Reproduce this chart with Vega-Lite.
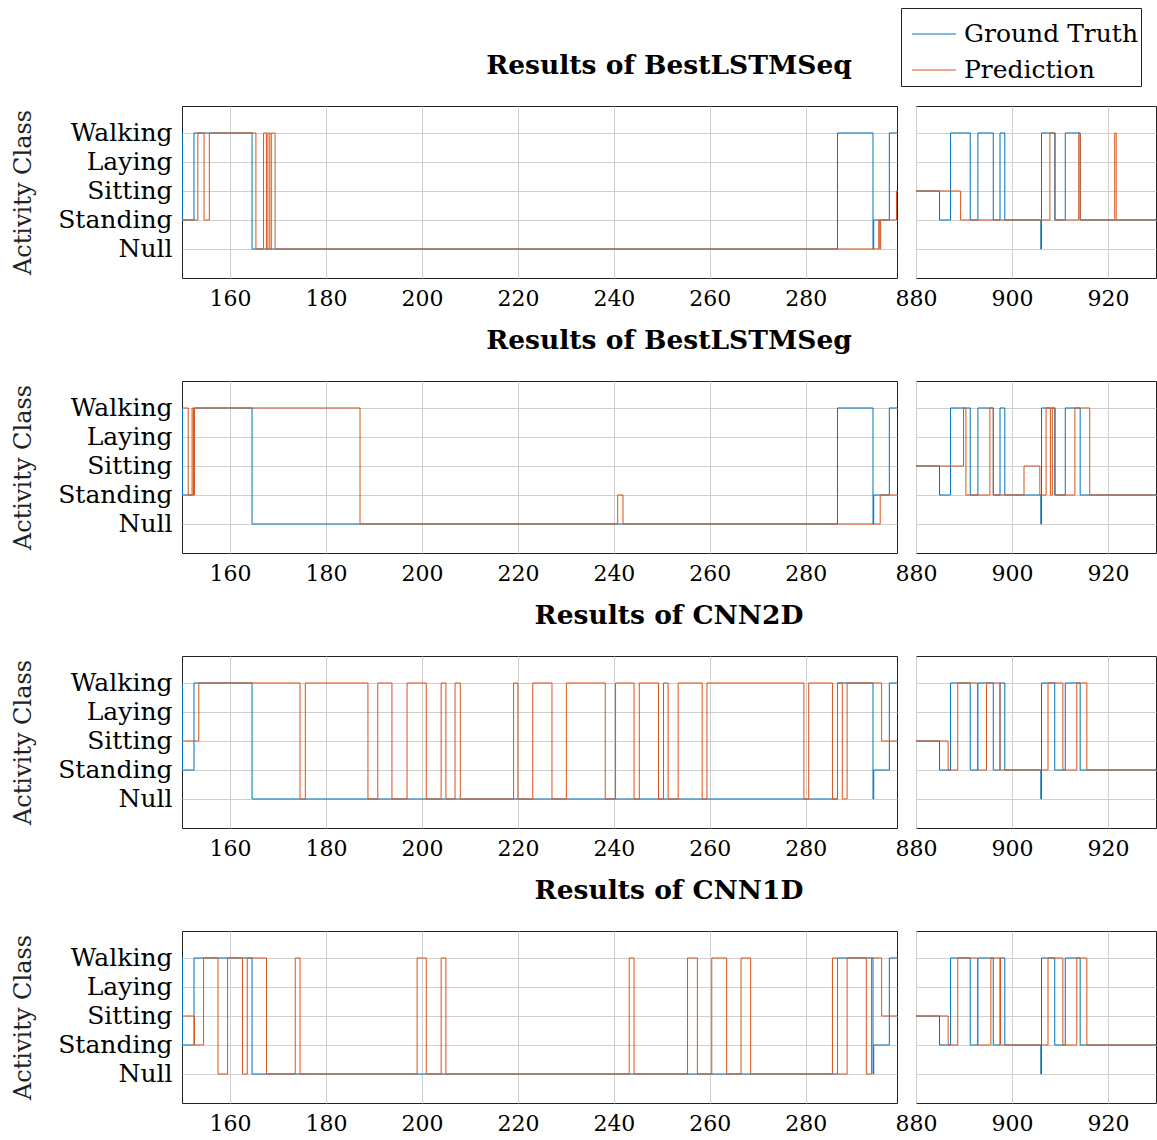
{
  "$schema": "https://vega.github.io/schema/vega-lite/v6.json",
  "background": "white",
  "padding": {"left": 11, "top": 7, "right": 2, "bottom": 4},
  "config": {
    "view": {"stroke": "#222", "strokeWidth": 1},
    "font": "DejaVu Serif",
    "axis": {"labelFont": "DejaVu Serif", "labelFontSize": 22, "labelColor": "#000", "grid": true, "gridColor": "#cfcfcf", "gridWidth": 1, "domain": false, "ticks": false, "labelPadding": 10, "labelFlush": false, "titleFont": "DejaVu Serif", "titleFontSize": 24, "titleFontWeight": "normal", "titleColor": "#222"},
    "title": {"font": "DejaVu Serif", "fontSize": 26.5, "fontWeight": "bold", "color": "#000", "anchor": "middle", "frame": "group", "offset": 26, "dx": 487},
    "legend": {"labelFont": "DejaVu Serif", "labelFontSize": 25, "labelColor": "#000", "labelLimit": 400}
  },
  "datasets": {
    "truth": [
      {"seg": "L", "x": 149.5, "c": 4}, {"seg": "L", "x": 150.1, "c": 1}, {"seg": "L", "x": 152.5, "c": 4}, {"seg": "L", "x": 164.6, "c": 0}, {"seg": "L", "x": 286.6, "c": 4}, {"seg": "L", "x": 294.0, "c": 0}, {"seg": "L", "x": 294.15, "c": 1}, {"seg": "L", "x": 297.4, "c": 4}, {"seg": "L", "x": 300, "c": 4},
      {"seg": "R", "x": 878, "c": 2}, {"seg": "R", "x": 884.9, "c": 1}, {"seg": "R", "x": 887.2, "c": 4}, {"seg": "R", "x": 891.3, "c": 1}, {"seg": "R", "x": 892.9, "c": 4}, {"seg": "R", "x": 896.1, "c": 1}, {"seg": "R", "x": 897.5, "c": 4}, {"seg": "R", "x": 898.5, "c": 1}, {"seg": "R", "x": 906.0, "c": 0}, {"seg": "R", "x": 906.15, "c": 4}, {"seg": "R", "x": 908.9, "c": 1}, {"seg": "R", "x": 911.1, "c": 4}, {"seg": "R", "x": 914.2, "c": 1}, {"seg": "R", "x": 931, "c": 1}
    ],
    "pred": [
      {"m": "BestLSTMSeq", "seg": "L", "x": 149.5, "c": 1}, {"m": "BestLSTMSeq", "seg": "L", "x": 153.3, "c": 4}, {"m": "BestLSTMSeq", "seg": "L", "x": 154.6, "c": 1}, {"m": "BestLSTMSeq", "seg": "L", "x": 155.7, "c": 4}, {"m": "BestLSTMSeq", "seg": "L", "x": 165.4, "c": 0}, {"m": "BestLSTMSeq", "seg": "L", "x": 167.0, "c": 4}, {"m": "BestLSTMSeq", "seg": "L", "x": 167.6, "c": 0}, {"m": "BestLSTMSeq", "seg": "L", "x": 167.9, "c": 4}, {"m": "BestLSTMSeq", "seg": "L", "x": 168.3, "c": 0}, {"m": "BestLSTMSeq", "seg": "L", "x": 168.6, "c": 4}, {"m": "BestLSTMSeq", "seg": "L", "x": 169.4, "c": 0}, {"m": "BestLSTMSeq", "seg": "L", "x": 295.2, "c": 1}, {"m": "BestLSTMSeq", "seg": "L", "x": 295.4, "c": 0}, {"m": "BestLSTMSeq", "seg": "L", "x": 295.6, "c": 1}, {"m": "BestLSTMSeq", "seg": "L", "x": 298.9, "c": 2}, {"m": "BestLSTMSeq", "seg": "L", "x": 300, "c": 2},
      {"m": "BestLSTMSeq", "seg": "R", "x": 878, "c": 2}, {"m": "BestLSTMSeq", "seg": "R", "x": 889.3, "c": 1}, {"m": "BestLSTMSeq", "seg": "R", "x": 907.9, "c": 4}, {"m": "BestLSTMSeq", "seg": "R", "x": 909.0, "c": 1}, {"m": "BestLSTMSeq", "seg": "R", "x": 913.9, "c": 4}, {"m": "BestLSTMSeq", "seg": "R", "x": 914.2, "c": 1}, {"m": "BestLSTMSeq", "seg": "R", "x": 921.4, "c": 4}, {"m": "BestLSTMSeq", "seg": "R", "x": 921.7, "c": 1}, {"m": "BestLSTMSeq", "seg": "R", "x": 931, "c": 1},

      {"m": "BestLSTMSeg", "seg": "L", "x": 149.5, "c": 4}, {"m": "BestLSTMSeg", "seg": "L", "x": 151.3, "c": 1}, {"m": "BestLSTMSeg", "seg": "L", "x": 152.1, "c": 4}, {"m": "BestLSTMSeg", "seg": "L", "x": 152.35, "c": 1}, {"m": "BestLSTMSeg", "seg": "L", "x": 152.6, "c": 4}, {"m": "BestLSTMSeg", "seg": "L", "x": 187.1, "c": 0}, {"m": "BestLSTMSeg", "seg": "L", "x": 240.8, "c": 1}, {"m": "BestLSTMSeg", "seg": "L", "x": 241.9, "c": 0}, {"m": "BestLSTMSeg", "seg": "L", "x": 295.5, "c": 1}, {"m": "BestLSTMSeg", "seg": "L", "x": 300.5, "c": 0}, {"m": "BestLSTMSeg", "seg": "L", "x": 301, "c": 0},
      {"m": "BestLSTMSeg", "seg": "R", "x": 878, "c": 2}, {"m": "BestLSTMSeg", "seg": "R", "x": 889.9, "c": 4}, {"m": "BestLSTMSeg", "seg": "R", "x": 890.4, "c": 1}, {"m": "BestLSTMSeg", "seg": "R", "x": 895.4, "c": 4}, {"m": "BestLSTMSeg", "seg": "R", "x": 896.1, "c": 1}, {"m": "BestLSTMSeg", "seg": "R", "x": 902.5, "c": 2}, {"m": "BestLSTMSeg", "seg": "R", "x": 905.8, "c": 1}, {"m": "BestLSTMSeg", "seg": "R", "x": 907.1, "c": 4}, {"m": "BestLSTMSeg", "seg": "R", "x": 908.0, "c": 1}, {"m": "BestLSTMSeg", "seg": "R", "x": 908.4, "c": 4}, {"m": "BestLSTMSeg", "seg": "R", "x": 909.0, "c": 1}, {"m": "BestLSTMSeg", "seg": "R", "x": 913.1, "c": 4}, {"m": "BestLSTMSeg", "seg": "R", "x": 916.2, "c": 1}, {"m": "BestLSTMSeg", "seg": "R", "x": 931, "c": 1},

      {"m": "CNN2D", "seg": "L", "x": 149.5, "c": 2}, {"m": "CNN2D", "seg": "L", "x": 153.5, "c": 4}, {"m": "CNN2D", "seg": "L", "x": 174.6, "c": 0}, {"m": "CNN2D", "seg": "L", "x": 175.7, "c": 4}, {"m": "CNN2D", "seg": "L", "x": 188.75, "c": 0}, {"m": "CNN2D", "seg": "L", "x": 190.8, "c": 4}, {"m": "CNN2D", "seg": "L", "x": 193.75, "c": 0}, {"m": "CNN2D", "seg": "L", "x": 196.9, "c": 4}, {"m": "CNN2D", "seg": "L", "x": 200.9, "c": 0}, {"m": "CNN2D", "seg": "L", "x": 204.0, "c": 4}, {"m": "CNN2D", "seg": "L", "x": 205.0, "c": 0}, {"m": "CNN2D", "seg": "L", "x": 206.9, "c": 4}, {"m": "CNN2D", "seg": "L", "x": 208.0, "c": 0}, {"m": "CNN2D", "seg": "L", "x": 219.1, "c": 4}, {"m": "CNN2D", "seg": "L", "x": 220.0, "c": 0}, {"m": "CNN2D", "seg": "L", "x": 223.1, "c": 4}, {"m": "CNN2D", "seg": "L", "x": 227.1, "c": 0}, {"m": "CNN2D", "seg": "L", "x": 230.1, "c": 4}, {"m": "CNN2D", "seg": "L", "x": 238.2, "c": 0}, {"m": "CNN2D", "seg": "L", "x": 240.35, "c": 4}, {"m": "CNN2D", "seg": "L", "x": 244.2, "c": 0}, {"m": "CNN2D", "seg": "L", "x": 245.3, "c": 4}, {"m": "CNN2D", "seg": "L", "x": 249.3, "c": 0}, {"m": "CNN2D", "seg": "L", "x": 250.35, "c": 4}, {"m": "CNN2D", "seg": "L", "x": 251.3, "c": 0}, {"m": "CNN2D", "seg": "L", "x": 253.4, "c": 4}, {"m": "CNN2D", "seg": "L", "x": 258.4, "c": 0}, {"m": "CNN2D", "seg": "L", "x": 259.4, "c": 4}, {"m": "CNN2D", "seg": "L", "x": 279.6, "c": 0}, {"m": "CNN2D", "seg": "L", "x": 280.6, "c": 4}, {"m": "CNN2D", "seg": "L", "x": 285.55, "c": 0}, {"m": "CNN2D", "seg": "L", "x": 286.6, "c": 4}, {"m": "CNN2D", "seg": "L", "x": 287.6, "c": 0}, {"m": "CNN2D", "seg": "L", "x": 288.6, "c": 4}, {"m": "CNN2D", "seg": "L", "x": 295.8, "c": 2}, {"m": "CNN2D", "seg": "L", "x": 300, "c": 2},
      {"m": "CNN2D", "seg": "R", "x": 878, "c": 2}, {"m": "CNN2D", "seg": "R", "x": 886.7, "c": 1}, {"m": "CNN2D", "seg": "R", "x": 888.7, "c": 4}, {"m": "CNN2D", "seg": "R", "x": 892.8, "c": 1}, {"m": "CNN2D", "seg": "R", "x": 894.7, "c": 4}, {"m": "CNN2D", "seg": "R", "x": 897.5, "c": 1}, {"m": "CNN2D", "seg": "R", "x": 907.5, "c": 4}, {"m": "CNN2D", "seg": "R", "x": 910.6, "c": 1}, {"m": "CNN2D", "seg": "R", "x": 913.5, "c": 4}, {"m": "CNN2D", "seg": "R", "x": 915.6, "c": 1}, {"m": "CNN2D", "seg": "R", "x": 931, "c": 1},

      {"m": "CNN1D", "seg": "L", "x": 149.5, "c": 2}, {"m": "CNN1D", "seg": "L", "x": 152.6, "c": 1}, {"m": "CNN1D", "seg": "L", "x": 154.5, "c": 4}, {"m": "CNN1D", "seg": "L", "x": 157.5, "c": 0}, {"m": "CNN1D", "seg": "L", "x": 159.5, "c": 4}, {"m": "CNN1D", "seg": "L", "x": 162.6, "c": 0}, {"m": "CNN1D", "seg": "L", "x": 163.6, "c": 4}, {"m": "CNN1D", "seg": "L", "x": 167.6, "c": 0}, {"m": "CNN1D", "seg": "L", "x": 173.6, "c": 4}, {"m": "CNN1D", "seg": "L", "x": 174.6, "c": 0}, {"m": "CNN1D", "seg": "L", "x": 199.0, "c": 4}, {"m": "CNN1D", "seg": "L", "x": 200.9, "c": 0}, {"m": "CNN1D", "seg": "L", "x": 204.0, "c": 4}, {"m": "CNN1D", "seg": "L", "x": 205.0, "c": 0}, {"m": "CNN1D", "seg": "L", "x": 243.2, "c": 4}, {"m": "CNN1D", "seg": "L", "x": 244.2, "c": 0}, {"m": "CNN1D", "seg": "L", "x": 255.35, "c": 4}, {"m": "CNN1D", "seg": "L", "x": 257.4, "c": 0}, {"m": "CNN1D", "seg": "L", "x": 260.4, "c": 4}, {"m": "CNN1D", "seg": "L", "x": 263.5, "c": 0}, {"m": "CNN1D", "seg": "L", "x": 266.5, "c": 4}, {"m": "CNN1D", "seg": "L", "x": 268.5, "c": 0}, {"m": "CNN1D", "seg": "L", "x": 285.55, "c": 4}, {"m": "CNN1D", "seg": "L", "x": 286.6, "c": 0}, {"m": "CNN1D", "seg": "L", "x": 288.6, "c": 4}, {"m": "CNN1D", "seg": "L", "x": 292.6, "c": 0}, {"m": "CNN1D", "seg": "L", "x": 293.7, "c": 4}, {"m": "CNN1D", "seg": "L", "x": 295.8, "c": 2}, {"m": "CNN1D", "seg": "L", "x": 300, "c": 2},
      {"m": "CNN1D", "seg": "R", "x": 878, "c": 2}, {"m": "CNN1D", "seg": "R", "x": 886.7, "c": 1}, {"m": "CNN1D", "seg": "R", "x": 888.7, "c": 4}, {"m": "CNN1D", "seg": "R", "x": 892.8, "c": 1}, {"m": "CNN1D", "seg": "R", "x": 895.6, "c": 4}, {"m": "CNN1D", "seg": "R", "x": 897.6, "c": 1}, {"m": "CNN1D", "seg": "R", "x": 907.5, "c": 4}, {"m": "CNN1D", "seg": "R", "x": 910.6, "c": 1}, {"m": "CNN1D", "seg": "R", "x": 913.5, "c": 4}, {"m": "CNN1D", "seg": "R", "x": 915.6, "c": 1}, {"m": "CNN1D", "seg": "R", "x": 931, "c": 1}
    ]
  },
  "spacing": 18,
  "vconcat": [
    {
      "title": {"text": "Results of BestLSTMSeq"},
      "spacing": 19,
      "bounds": "flush",
      "hconcat": [
        {"width": 715, "height": 172, "layer": [
          {"data": {"name": "truth"}, "transform": [{"filter": "datum.seg === 'L'"}], "mark": {"type": "line", "interpolate": "step-after", "clip": true, "strokeWidth": 1},
           "encoding": {"x": {"field": "x", "type": "quantitative", "scale": {"domain": [150, 299], "nice": false, "zero": false}, "axis": {"values": [160, 180, 200, 220, 240, 260, 280], "title": null}},
            "y": {"field": "c", "type": "quantitative", "scale": {"domain": [-1, 4.93], "nice": false, "zero": false}, "axis": {"values": [0, 1, 2, 3, 4], "labelFontSize": 25, "labelExpr": "['Null','Standing','Sitting','Laying','Walking'][datum.value]", "title": "Activity Class", "titlePadding": 22}},
            "color": {"datum": "Ground Truth", "scale": {"domain": ["Ground Truth", "Prediction"], "range": ["#0072BD", "#D95319"]},
              "legend": {"title": null, "orient": "none", "legendX": 719, "legendY": -98, "symbolType": "stroke", "symbolSize": 1950, "symbolStrokeWidth": 1, "symbolOffset": 7, "strokeColor": "#222", "fillColor": "white", "padding": 3, "rowPadding": 0, "labelOffset": 7, "labelExpr": "datum.label + '\u2002\u2009'"}}}},
          {"data": {"name": "pred"}, "transform": [{"filter": "datum.seg === 'L' && datum.m === 'BestLSTMSeq'"}], "mark": {"type": "line", "interpolate": "step-after", "clip": true, "strokeWidth": 1},
           "encoding": {"x": {"field": "x", "type": "quantitative"}, "y": {"field": "c", "type": "quantitative"}, "color": {"datum": "Prediction"}}}
        ]},
        {"width": 240, "height": 172, "layer": [
          {"data": {"name": "truth"}, "transform": [{"filter": "datum.seg === 'R'"}], "mark": {"type": "line", "interpolate": "step-after", "clip": true, "strokeWidth": 1},
           "encoding": {"x": {"field": "x", "type": "quantitative", "scale": {"domain": [880, 930], "nice": false, "zero": false}, "axis": {"values": [880, 900, 920], "title": null}},
            "y": {"field": "c", "type": "quantitative", "scale": {"domain": [-1, 4.93], "nice": false, "zero": false}, "axis": {"values": [0, 1, 2, 3, 4], "labels": false, "title": null}},
            "color": {"datum": "Ground Truth"}}},
          {"data": {"name": "pred"}, "transform": [{"filter": "datum.seg === 'R' && datum.m === 'BestLSTMSeq'"}], "mark": {"type": "line", "interpolate": "step-after", "clip": true, "strokeWidth": 1},
           "encoding": {"x": {"field": "x", "type": "quantitative"}, "y": {"field": "c", "type": "quantitative"}, "color": {"datum": "Prediction"}}}
        ]}
      ]
    },
    {
      "title": {"text": "Results of BestLSTMSeg"},
      "spacing": 19,
      "bounds": "flush",
      "hconcat": [
        {"width": 715, "height": 172, "layer": [
          {"data": {"name": "truth"}, "transform": [{"filter": "datum.seg === 'L'"}], "mark": {"type": "line", "interpolate": "step-after", "clip": true, "strokeWidth": 1},
           "encoding": {"x": {"field": "x", "type": "quantitative", "scale": {"domain": [150, 299], "nice": false, "zero": false}, "axis": {"values": [160, 180, 200, 220, 240, 260, 280], "title": null}},
            "y": {"field": "c", "type": "quantitative", "scale": {"domain": [-1, 4.93], "nice": false, "zero": false}, "axis": {"values": [0, 1, 2, 3, 4], "labelFontSize": 25, "labelExpr": "['Null','Standing','Sitting','Laying','Walking'][datum.value]", "title": "Activity Class", "titlePadding": 22}},
            "color": {"datum": "Ground Truth"}}},
          {"data": {"name": "pred"}, "transform": [{"filter": "datum.seg === 'L' && datum.m === 'BestLSTMSeg'"}], "mark": {"type": "line", "interpolate": "step-after", "clip": true, "strokeWidth": 1},
           "encoding": {"x": {"field": "x", "type": "quantitative"}, "y": {"field": "c", "type": "quantitative"}, "color": {"datum": "Prediction"}}}
        ]},
        {"width": 240, "height": 172, "layer": [
          {"data": {"name": "truth"}, "transform": [{"filter": "datum.seg === 'R'"}], "mark": {"type": "line", "interpolate": "step-after", "clip": true, "strokeWidth": 1},
           "encoding": {"x": {"field": "x", "type": "quantitative", "scale": {"domain": [880, 930], "nice": false, "zero": false}, "axis": {"values": [880, 900, 920], "title": null}},
            "y": {"field": "c", "type": "quantitative", "scale": {"domain": [-1, 4.93], "nice": false, "zero": false}, "axis": {"values": [0, 1, 2, 3, 4], "labels": false, "title": null}},
            "color": {"datum": "Ground Truth"}}},
          {"data": {"name": "pred"}, "transform": [{"filter": "datum.seg === 'R' && datum.m === 'BestLSTMSeg'"}], "mark": {"type": "line", "interpolate": "step-after", "clip": true, "strokeWidth": 1},
           "encoding": {"x": {"field": "x", "type": "quantitative"}, "y": {"field": "c", "type": "quantitative"}, "color": {"datum": "Prediction"}}}
        ]}
      ]
    },
    {
      "title": {"text": "Results of CNN2D"},
      "spacing": 19,
      "bounds": "flush",
      "hconcat": [
        {"width": 715, "height": 172, "layer": [
          {"data": {"name": "truth"}, "transform": [{"filter": "datum.seg === 'L'"}], "mark": {"type": "line", "interpolate": "step-after", "clip": true, "strokeWidth": 1},
           "encoding": {"x": {"field": "x", "type": "quantitative", "scale": {"domain": [150, 299], "nice": false, "zero": false}, "axis": {"values": [160, 180, 200, 220, 240, 260, 280], "title": null}},
            "y": {"field": "c", "type": "quantitative", "scale": {"domain": [-1, 4.93], "nice": false, "zero": false}, "axis": {"values": [0, 1, 2, 3, 4], "labelFontSize": 25, "labelExpr": "['Null','Standing','Sitting','Laying','Walking'][datum.value]", "title": "Activity Class", "titlePadding": 22}},
            "color": {"datum": "Ground Truth"}}},
          {"data": {"name": "pred"}, "transform": [{"filter": "datum.seg === 'L' && datum.m === 'CNN2D'"}], "mark": {"type": "line", "interpolate": "step-after", "clip": true, "strokeWidth": 1},
           "encoding": {"x": {"field": "x", "type": "quantitative"}, "y": {"field": "c", "type": "quantitative"}, "color": {"datum": "Prediction"}}}
        ]},
        {"width": 240, "height": 172, "layer": [
          {"data": {"name": "truth"}, "transform": [{"filter": "datum.seg === 'R'"}], "mark": {"type": "line", "interpolate": "step-after", "clip": true, "strokeWidth": 1},
           "encoding": {"x": {"field": "x", "type": "quantitative", "scale": {"domain": [880, 930], "nice": false, "zero": false}, "axis": {"values": [880, 900, 920], "title": null}},
            "y": {"field": "c", "type": "quantitative", "scale": {"domain": [-1, 4.93], "nice": false, "zero": false}, "axis": {"values": [0, 1, 2, 3, 4], "labels": false, "title": null}},
            "color": {"datum": "Ground Truth"}}},
          {"data": {"name": "pred"}, "transform": [{"filter": "datum.seg === 'R' && datum.m === 'CNN2D'"}], "mark": {"type": "line", "interpolate": "step-after", "clip": true, "strokeWidth": 1},
           "encoding": {"x": {"field": "x", "type": "quantitative"}, "y": {"field": "c", "type": "quantitative"}, "color": {"datum": "Prediction"}}}
        ]}
      ]
    },
    {
      "title": {"text": "Results of CNN1D"},
      "spacing": 19,
      "bounds": "flush",
      "hconcat": [
        {"width": 715, "height": 172, "layer": [
          {"data": {"name": "truth"}, "transform": [{"filter": "datum.seg === 'L'"}], "mark": {"type": "line", "interpolate": "step-after", "clip": true, "strokeWidth": 1},
           "encoding": {"x": {"field": "x", "type": "quantitative", "scale": {"domain": [150, 299], "nice": false, "zero": false}, "axis": {"values": [160, 180, 200, 220, 240, 260, 280], "title": null}},
            "y": {"field": "c", "type": "quantitative", "scale": {"domain": [-1, 4.93], "nice": false, "zero": false}, "axis": {"values": [0, 1, 2, 3, 4], "labelFontSize": 25, "labelExpr": "['Null','Standing','Sitting','Laying','Walking'][datum.value]", "title": "Activity Class", "titlePadding": 22}},
            "color": {"datum": "Ground Truth"}}},
          {"data": {"name": "pred"}, "transform": [{"filter": "datum.seg === 'L' && datum.m === 'CNN1D'"}], "mark": {"type": "line", "interpolate": "step-after", "clip": true, "strokeWidth": 1},
           "encoding": {"x": {"field": "x", "type": "quantitative"}, "y": {"field": "c", "type": "quantitative"}, "color": {"datum": "Prediction"}}}
        ]},
        {"width": 240, "height": 172, "layer": [
          {"data": {"name": "truth"}, "transform": [{"filter": "datum.seg === 'R'"}], "mark": {"type": "line", "interpolate": "step-after", "clip": true, "strokeWidth": 1},
           "encoding": {"x": {"field": "x", "type": "quantitative", "scale": {"domain": [880, 930], "nice": false, "zero": false}, "axis": {"values": [880, 900, 920], "title": null}},
            "y": {"field": "c", "type": "quantitative", "scale": {"domain": [-1, 4.93], "nice": false, "zero": false}, "axis": {"values": [0, 1, 2, 3, 4], "labels": false, "title": null}},
            "color": {"datum": "Ground Truth"}}},
          {"data": {"name": "pred"}, "transform": [{"filter": "datum.seg === 'R' && datum.m === 'CNN1D'"}], "mark": {"type": "line", "interpolate": "step-after", "clip": true, "strokeWidth": 1},
           "encoding": {"x": {"field": "x", "type": "quantitative"}, "y": {"field": "c", "type": "quantitative"}, "color": {"datum": "Prediction"}}}
        ]}
      ]
    }
  ]
}
